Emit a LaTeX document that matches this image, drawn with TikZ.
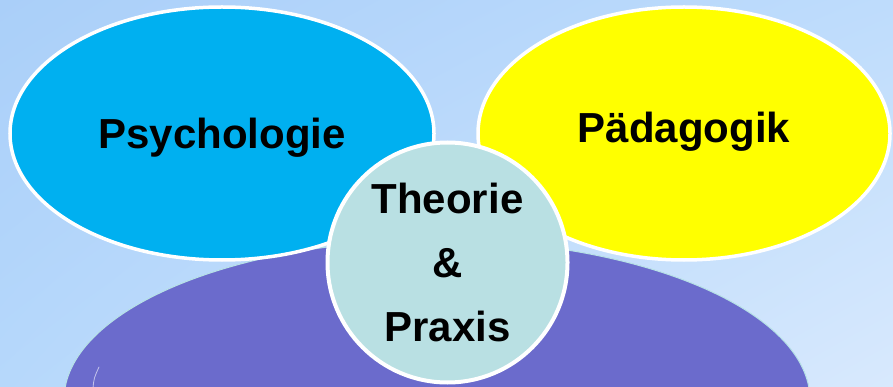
\documentclass[tikz,border=0pt]{standalone}
\usepackage{fontspec}
\setmainfont{Liberation Sans}
\usepackage{tikz}
\usetikzlibrary{shapes.geometric,shadings}

\begin{document}
\begin{tikzpicture}
			[x=1pt,y=-1pt,line cap=round,
			%Styles
			big text/.style={font=\fontsize{42}{64}\selectfont\bfseries},
			bubble/.style={ellipse,draw=white,line width=3.5pt,inner sep=0pt,big text,text height=30pt},
			core/.style={circle,fill=corecolor,draw=white,line width=4pt,inner sep=0pt,minimum size=240pt,align=center,big text},
			base/.style={ellipse,fill=basecolor,draw=baseline,line width=1pt,inner sep=0pt},
			glint/.style={white,opacity=.6,line width=.8pt}
			]
			
			%Colors
			\definecolor{bgtl}{HTML}{AACFF9}
			\definecolor{bgtr}{HTML}{BEDCFC}
			\definecolor{bgbl}{HTML}{B6D8FB}
			\definecolor{bgbr}{HTML}{D8E9FD}
			\definecolor{psycolor}{HTML}{00B0F0}
			\definecolor{paedcolor}{HTML}{FFFF00}
			\definecolor{corecolor}{HTML}{B9E0E3}
			\definecolor{basecolor}{HTML}{6B6BCC}
			\definecolor{baseline}{HTML}{B7E2E6}
			
			%The graphic
			\useasboundingbox (0,0) rectangle (893,387);
			\clip (0,0) rectangle (893,387);
			\shade[upper left=bgtl,upper right=bgtr,lower left=bgbl,lower right=bgbr] (0,0) rectangle (893,387);
			
			\node[base,minimum width=746pt,minimum height=320pt] (base) at (437,400) {};
			\draw[glint] (93,388) .. controls (94,378) .. (99,367);
			
			\node[bubble,fill=psycolor,minimum width=424pt,minimum height=253pt,text depth=0pt] (psy) at (222,133.5) {Psychologie};
			\node[bubble,fill=paedcolor,minimum width=412pt,minimum height=253pt,text depth=11pt] (paed) at (684,133.5) {Pädagogik};
			
			\node[core] (tp) at (447.5,262.5) {Theorie\\\&\\Praxis};
		\end{tikzpicture}
\end{document}
